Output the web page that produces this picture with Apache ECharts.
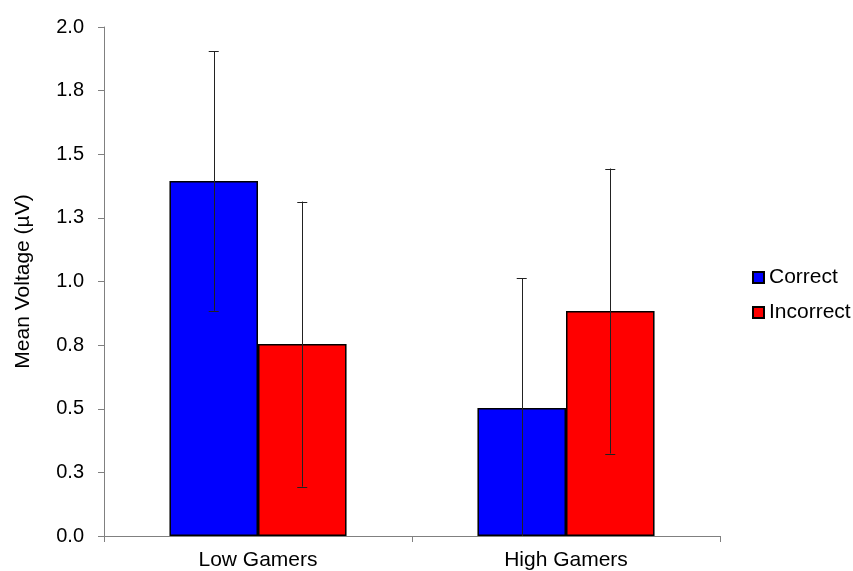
<!DOCTYPE html>
<html>
<head>
<meta charset="utf-8">
<script src="https://cdn.jsdelivr.net/npm/echarts@6/dist/echarts.min.js"></script>
<style>
  html, body { margin: 0; padding: 0; background: #fff; }
  #chart { width: 853px; height: 571px; }
</style>
</head>
<body>
<div id="chart"></div>
<script>
// Group labels along the x axis
const categories = ['Low Gamers', 'High Gamers'];
// Mean voltage per group
const correctMeans = [1.395, 0.503];
const incorrectMeans = [0.754, 0.884];
// Error bar half-lengths
const correctErrors = [0.51, 0.51];
const incorrectErrors = [0.56, 0.56];
// Tick labels shown on the value axis (one decimal place)
const yTickValues = [0, 0.25, 0.5, 0.75, 1.0, 1.25, 1.5, 1.75, 2.0];
const yTickLabels = ['0.0', '0.3', '0.5', '0.8', '1.0', '1.3', '1.5', '1.8', '2.0'];

const FONT = 'Liberation Sans, Arial, sans-serif';
const GAP = 0.425;

const chart = echarts.init(document.getElementById('chart'));

// Builds one error-bar series; side -1 = left bar in the group, +1 = right bar
function errorSeries(means, errs, side) {
  const data = means.map((m, i) => [i, m, errs[i]]);
  return {
    type: 'custom',
    silent: true,
    z: 10,
    data: data,
    renderItem: function (params, api) {
      const idx = api.value(0);
      const mean = api.value(1);
      const err = api.value(2);
      const band = api.size([1, 0])[0];
      const bw = band * (1 - GAP) / 2;
      const center = api.coord([idx, mean]);
      const x = center[0] + side * bw / 2;
      const lo = Math.max(0, mean - err);
      const hi = mean + err;
      const yTop = api.coord([idx, hi])[1];
      const yBot = api.coord([idx, lo])[1];
      const cap = 5;
      const style = { stroke: '#222', lineWidth: 1 };
      const children = [
        { type: 'line', shape: { x1: Math.round(x) + 0.5, y1: yTop, x2: Math.round(x) + 0.5, y2: yBot }, style: style },
        { type: 'line', shape: { x1: x - cap, y1: Math.round(yTop) + 0.5, x2: x + cap, y2: Math.round(yTop) + 0.5 }, style: style }
      ];
      if (mean - err > 0) {
        children.push({ type: 'line', shape: { x1: x - cap, y1: Math.round(yBot) + 0.5, x2: x + cap, y2: Math.round(yBot) + 0.5 }, style: style });
      }
      return { type: 'group', children: children };
    }
  };
}

chart.setOption({
  animation: false,
  backgroundColor: '#fff',
  grid: { left: 104, right: 133, top: 27, bottom: 35, containLabel: false },
  legend: {
    orient: 'vertical',
    left: 747,
    top: 262,
    itemWidth: 11,
    itemHeight: 11,
    itemGap: 14,
    icon: 'rect',
    data: ['Correct', 'Incorrect'],
    textStyle: { fontFamily: FONT, fontSize: 21, color: '#000', padding: [0, 0, 0, 0] }
  },
  xAxis: {
    type: 'category',
    data: categories,
    axisLine: { lineStyle: { color: '#808080', width: 1 } },
    axisTick: { show: true, alignWithLabel: false, length: 6, lineStyle: { color: '#808080' } },
    axisLabel: { fontFamily: FONT, fontSize: 21, color: '#000', margin: 14 }
  },
  yAxis: {
    type: 'value',
    min: 0,
    max: 2,
    interval: 0.25,
    name: 'Mean Voltage (\u00B5V)',
    nameLocation: 'middle',
    nameGap: 70,
    nameTextStyle: { fontFamily: FONT, fontSize: 21, color: '#000' },
    splitLine: { show: false },
    axisLine: { show: true, lineStyle: { color: '#808080', width: 1 } },
    axisTick: { show: true, length: 6, lineStyle: { color: '#808080' } },
    axisLabel: {
      fontFamily: FONT, fontSize: 20, color: '#000', margin: 20,
      formatter: function (v) {
        const i = yTickValues.findIndex(t => Math.abs(t - v) < 1e-9);
        return i >= 0 ? yTickLabels[i] : '';
      }
    }
  },
  series: [
    {
      name: 'Correct',
      type: 'bar',
      data: correctMeans,
      barGap: '0%',
      barCategoryGap: (GAP * 100) + '%',
      itemStyle: { color: '#0000ff', borderColor: '#000', borderWidth: 1.5 }
    },
    {
      name: 'Incorrect',
      type: 'bar',
      data: incorrectMeans,
      barGap: '0%',
      barCategoryGap: (GAP * 100) + '%',
      itemStyle: { color: '#ff0000', borderColor: '#000', borderWidth: 1.5 }
    },
    errorSeries(correctMeans, correctErrors, -1),
    errorSeries(incorrectMeans, incorrectErrors, 1)
  ]
});
</script>
</body>
</html>
